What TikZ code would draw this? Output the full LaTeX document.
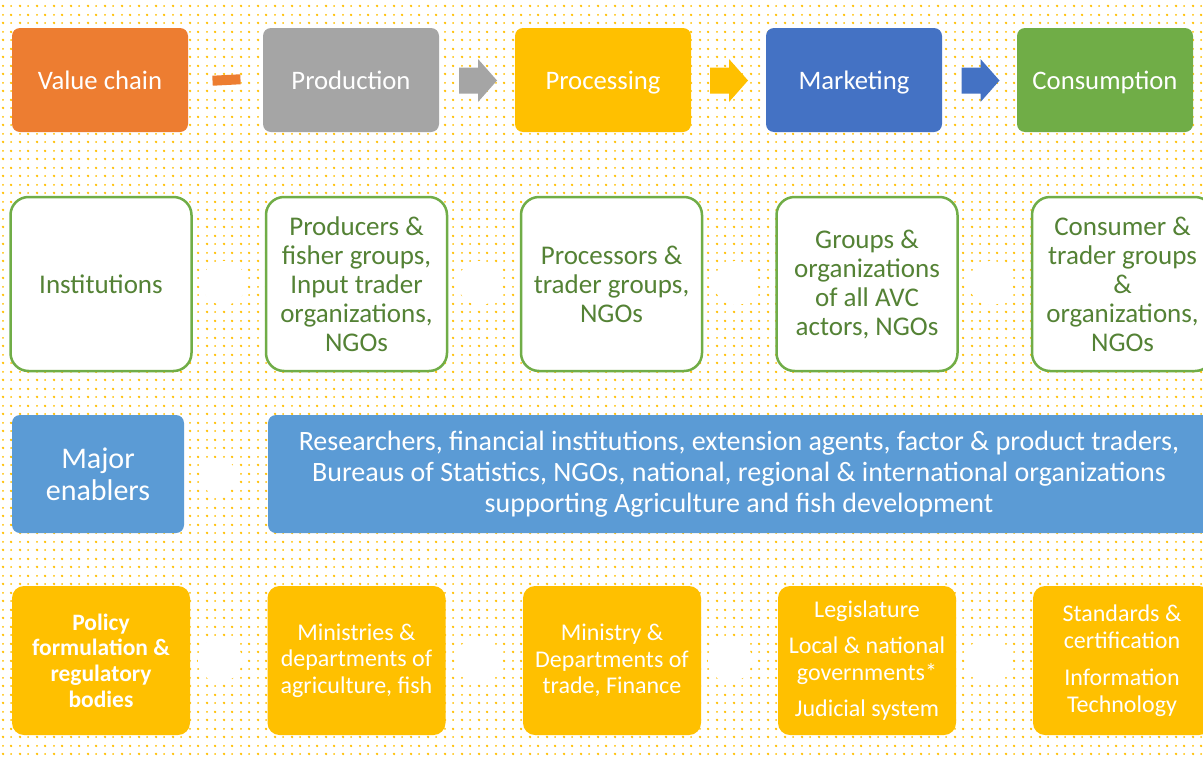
\documentclass[tikz,border=0pt]{standalone}
\usepackage{fontspec}
\setmainfont{Carlito}
\usetikzlibrary{patterns.meta,calc}
\definecolor{vcorange}{HTML}{ED7D31}
\definecolor{vcgray}{HTML}{A5A5A5}
\definecolor{vcgold}{HTML}{FFC000}
\definecolor{vcblue}{HTML}{4472C4}
\definecolor{vcgreen}{HTML}{70AD47}
\definecolor{vcsky}{HTML}{5B9BD5}
\definecolor{txtgreen}{HTML}{548235}
\definecolor{dotcol}{HTML}{FFC000}
\tikzdeclarepattern{
  name=odots,
  type=uncolored,
  bounding box={(0pt,0pt) and (17pt,17pt)},
  tile size={(17pt,17pt)},
  code={
    \fill (4.25pt,4.25pt) circle (1.35pt);
    \fill (12.75pt,12.75pt) circle (1.35pt);
    \fill (12.75pt,4.25pt) circle (1.05pt);
    \fill (4.25pt,12.75pt) circle (1.05pt);
  }
}
\begin{document}
\begin{tikzpicture}[x=1pt,y=-1pt,
  topbox/.style={rounded corners=8, minimum width=176, minimum height=104, inner sep=0,
    text=white, font=\fontsize{26.7}{30}\selectfont, text height=19pt, text depth=0pt},
  instbox/.style={draw=vcgreen, line width=2.5pt, fill=white, rounded corners=18,
    minimum width=181, minimum height=174, inner sep=0, align=center,
    text=txtgreen, font=\fontsize{27}{29}\selectfont},
  enabbox/.style={fill=vcsky, rounded corners=8, minimum height=118, inner sep=0,
    align=center, text=white},
  polbox/.style={fill=vcgold, rounded corners=12, minimum width=178, minimum height=149,
    inner sep=0, align=center, text=white, font=\fontsize{24}{26.5}\selectfont},
  blockarrow/.pic={\fill[#1] (-19,-13) -- (0,-13) -- (0,-21.5) -- (19,0) -- (0,21.5)
    -- (0,13) -- (-19,13) -- cycle;},
  gapdisc/.style={circle, fill=white, inner sep=0},
]
\useasboundingbox (0,0) rectangle (1203,758);
\fill[white] (0,0) rectangle (1203,758);
\fill[pattern=odots, pattern color=dotcol] (0,0) rectangle (1203,758);
\begin{scope}
\clip (0,0) rectangle (1203,758);
% gap discs
\foreach \x in {224,480,736,991} \node[gapdisc, minimum size=44] at (\x,283) {};
\node[gapdisc, minimum size=36] at (218,476) {};
\foreach \x in {220,478,730,988} \node[gapdisc, minimum size=44] at (\x,660) {};
% top row
\node[topbox, fill=vcorange] (vc) at (100,80) {Value chain};
\node[topbox, fill=vcgray] (prod) at (351,80) {Production};
\node[topbox, fill=vcgold] (proc) at (603,80) {Processing};
\node[topbox, fill=vcblue] (mkt) at (854,80) {Marketing};
\node[topbox, fill=vcgreen] (cons) at (1105,80) {Consumption};
\node[fill=vcorange, minimum width=28, minimum height=10, inner sep=0, rotate=3]
  (dash) at ($(vc.east)!0.5!(prod.west)+(1,0)$) {};
\coordinate (c1) at ($(prod.east)!0.5!(proc.west)+(1,0.5)$);
\coordinate (c2) at ($(proc.east)!0.5!(mkt.west)+(0.5,0.5)$);
\coordinate (c3) at ($(mkt.east)!0.5!(cons.west)+(1,0.5)$);
\pic at (c1) {blockarrow=vcgray};
\pic at (c2) {blockarrow=vcgold};
\pic at (c3) {blockarrow=vcblue};
% institutions row
\node[instbox] (inst) at (101,284) {Institutions};
\node[instbox] (i1) at (356.5,284) {Producers \&\\fisher groups,\\Input trader\\organizations,\\NGOs};
\node[instbox] (i2) at (611.5,284) {Processors \&\\trader groups,\\NGOs};
\node[instbox] (i3) at (867,284) {Groups \&\\organizations\\of all AVC\\actors, NGOs};
\node[instbox] (i4) at (1122.5,284) {Consumer \&\\trader groups\\\&\\organizations,\\NGOs};
% enablers row
\node[enabbox, minimum width=172, font=\fontsize{30}{32}\selectfont] (me) at (98,474) {Major\\enablers};
\node[enabbox, minimum width=942, font=\fontsize{28}{31}\selectfont] (mb) at (739,474)
  {Researchers, financial institutions, extension agents, factor \& product traders,\\
   Bureaus of Statistics, NGOs, national, regional \& international organizations\\
   supporting Agriculture and fish development};
% policy row
\node[polbox, font=\fontsize{23.5}{25.7}\selectfont\bfseries] (pol) at (101,660.5)
  {Policy\\formulation \&\\regulatory\\bodies};
\node[polbox] (p1) at (356.5,660.5) {Ministries \&\\departments of\\agriculture, fish};
\node[polbox] (p2) at (612,660.5) {Ministry \&\\Departments of\\trade, Finance};
\node[polbox] (p3) at (867,660.5) {Legislature\\[10pt]Local \& national\\governments*\\[10pt]Judicial system};
\node[polbox] (p4) at (1122,660.5) {Standards \&\\certification\\[11pt]Information\\Technology};
\end{scope}
\end{tikzpicture}
\end{document}
